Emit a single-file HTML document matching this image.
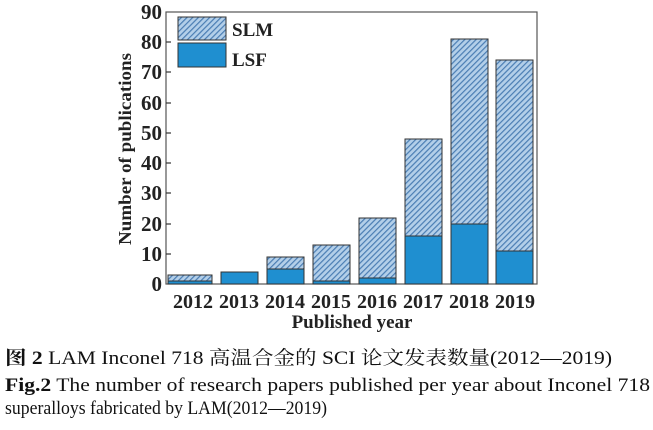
<!DOCTYPE html>
<html><head><meta charset="utf-8"><style>body{margin:0;background:#fff}svg{display:block}</style></head><body>
<svg width="653" height="430" xmlns="http://www.w3.org/2000/svg" font-family="Liberation Serif, 'Noto Serif CJK SC', serif">
<defs>
<pattern id="h" width="4" height="4" patternUnits="userSpaceOnUse" patternTransform="rotate(45)">
<rect width="4" height="4" fill="#b3cfe9"/><rect width="1.2" height="4" fill="#4a7db3"/>
</pattern>
</defs>
<rect x="166" y="12" width="371" height="272" fill="none" stroke="#555" stroke-width="1.2"/>
<g font-size="21" font-weight="bold" fill="#222" text-anchor="end">
<text x="162" y="291">0</text><text x="162" y="261">10</text><text x="162" y="231">20</text><text x="162" y="200">30</text><text x="162" y="170">40</text><text x="162" y="140">50</text><text x="162" y="110">60</text><text x="162" y="79">70</text><text x="162" y="49">80</text><text x="162" y="19">90</text>
</g>
<g stroke="#333" stroke-width="1.2">
<line x1="166" x2="171" y1="254" y2="254"/><line x1="166" x2="171" y1="224" y2="224"/><line x1="166" x2="171" y1="193" y2="193"/><line x1="166" x2="171" y1="163" y2="163"/><line x1="166" x2="171" y1="133" y2="133"/><line x1="166" x2="171" y1="103" y2="103"/><line x1="166" x2="171" y1="72" y2="72"/><line x1="166" x2="171" y1="42" y2="42"/>
</g>
<g stroke="#333" stroke-width="1">
<rect x="168" y="275" width="44" height="9" fill="url(#h)"/><rect x="168" y="281" width="44" height="3" fill="#1f8fd0"/>
<rect x="221" y="272" width="37" height="12" fill="#1f8fd0"/>
<rect x="267" y="257" width="37" height="27" fill="url(#h)"/><rect x="267" y="269" width="37" height="15" fill="#1f8fd0"/>
<rect x="313" y="245" width="37" height="39" fill="url(#h)"/><rect x="313" y="281" width="37" height="3" fill="#1f8fd0"/>
<rect x="359" y="218" width="37" height="66" fill="url(#h)"/><rect x="359" y="278" width="37" height="6" fill="#1f8fd0"/>
<rect x="405" y="139" width="37" height="145" fill="url(#h)"/><rect x="405" y="236" width="37" height="48" fill="#1f8fd0"/>
<rect x="451" y="39" width="37" height="245" fill="url(#h)"/><rect x="451" y="224" width="37" height="60" fill="#1f8fd0"/>
<rect x="496" y="60" width="37" height="224" fill="url(#h)"/><rect x="496" y="251" width="37" height="33" fill="#1f8fd0"/>
<rect x="178" y="17" width="48" height="23" fill="url(#h)"/><rect x="178" y="43" width="48" height="24" fill="#1f8fd0"/>
</g>
<g font-size="19" font-weight="bold" fill="#222">
<text x="232" y="36">SLM</text><text x="232" y="66">LSF</text>
</g>
<g font-size="20" font-weight="bold" fill="#222" text-anchor="middle">
<text x="193" y="308">2012</text><text x="239" y="308">2013</text><text x="285" y="308">2014</text><text x="331" y="308">2015</text><text x="377" y="308">2016</text><text x="423" y="308">2017</text><text x="469" y="308">2018</text><text x="515" y="308">2019</text>
<text x="352" y="328" font-size="19">Published year</text>
<text transform="translate(131,149) rotate(-90)" font-size="18" textLength="192" lengthAdjust="spacingAndGlyphs">Number of publications</text>
</g>
<g font-size="19" fill="#111">
<text x="5" y="364" textLength="607" lengthAdjust="spacingAndGlyphs"><tspan font-weight="bold">图 2</tspan>   LAM Inconel 718 高温合金的 SCI 论文发表数量(2012—2019)</text>
<text x="5" y="391" textLength="645" lengthAdjust="spacingAndGlyphs"><tspan font-weight="bold">Fig.2</tspan>   The number of research papers published per year about Inconel 718</text>
<text x="5" y="414" textLength="322" lengthAdjust="spacingAndGlyphs">superalloys fabricated by LAM(2012—2019)</text>
</g>
</svg>
</body></html>
